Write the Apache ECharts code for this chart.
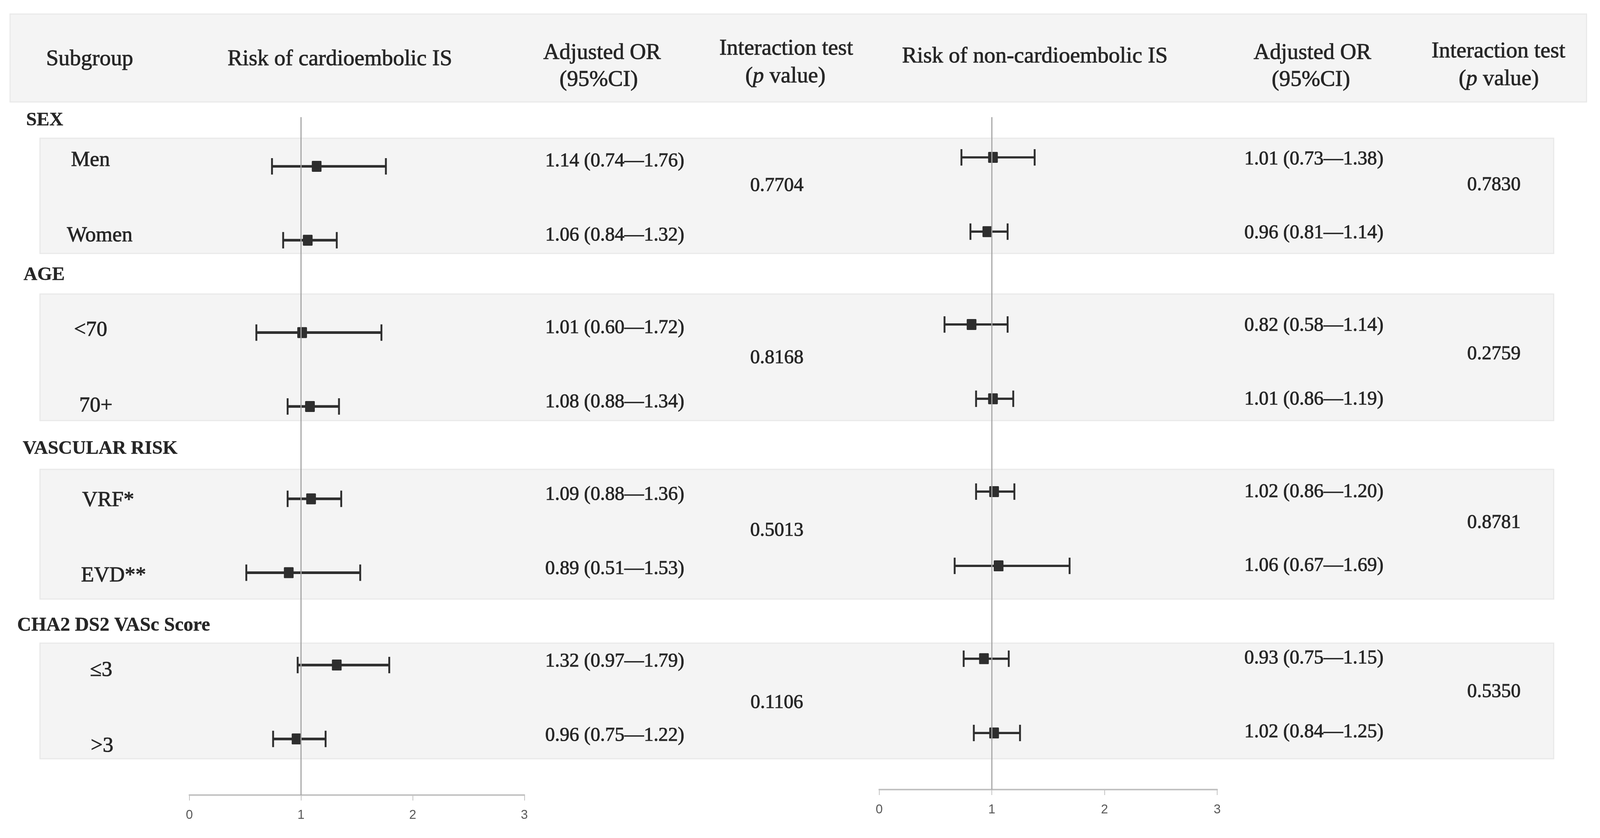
<!DOCTYPE html>
<html>
<head>
<meta charset="utf-8">
<script src="https://cdn.jsdelivr.net/npm/echarts@6/dist/echarts.min.js"></script>
<style>
html,body{margin:0;padding:0;background:#ffffff;overflow:hidden;}
#chart{position:absolute;left:0;top:0;}
</style>
</head>
<body>
<div id="chart"></div>
<script>
// ---------------- DATA ----------------
const groups = ['SEX', 'AGE', 'VASCULAR RISK', 'CHA2 DS2 VASc Score'];
const subgroups = ['Men', 'Women', '<70', '70+', 'VRF*', 'EVD**', '≤3', '>3'];
const subgroupGroup = [0, 0, 1, 1, 2, 2, 3, 3];

// Risk of cardioembolic IS
const ceOR = [1.14, 1.06, 1.01, 1.08, 1.09, 0.89, 1.32, 0.96];
const ceLo = [0.74, 0.84, 0.60, 0.88, 0.88, 0.51, 0.97, 0.75];
const ceHi = [1.76, 1.32, 1.72, 1.34, 1.36, 1.53, 1.79, 1.22];
const ceP  = ['0.7704', '0.8168', '0.5013', '0.1106'];

// Risk of non-cardioembolic IS
const nceOR = [1.01, 0.96, 0.82, 1.01, 1.02, 1.06, 0.93, 1.02];
const nceLo = [0.73, 0.81, 0.58, 0.86, 0.86, 0.67, 0.75, 0.84];
const nceHi = [1.38, 1.14, 1.14, 1.19, 1.20, 1.69, 1.15, 1.25];
const nceP  = ['0.7830', '0.2759', '0.8781', '0.5350'];

const xTicks = [0, 1, 2, 3];

// ---------------- LAYOUT (design units: 4284 x 2146) ----------------
const DW = 4284, DH = 2146;
const VW = document.documentElement.clientWidth || window.innerWidth || DW;
const VH = document.documentElement.clientHeight || window.innerHeight || DH;
const sx = VW / DW, sy = VH / DH, fs = Math.min(sx, sy);
const X = function (v) { return v * sx; };
const Y = function (v) { return v * sy; };
const F = function (v) { return v * fs; };

const el = document.getElementById('chart');
el.style.width = VW + 'px';
el.style.height = VH + 'px';

const FONT = "'Liberation Serif', 'DejaVu Serif', serif";
const INK = '#262626';

// row slot index: each group spans 9 slots, rows inside a group are 4 slots apart
const slotOf = (function () {
  const counts = {};
  return subgroups.map(function (s, i) {
    const g = subgroupGroup[i];
    counts[g] = counts[g] || 0;
    const slot = g * 9 + counts[g] * 4;
    counts[g]++;
    return slot;
  });
})();

const L = { left: 507, right: 1404, top: 300, axisY: 2036, row0: 426, unit: 47.3 };
const R = { left: 2354, right: 3259, top: 300, axisY: 2022, row0: 403, unit: 47.55 };
const yRange = function (p) {
  return { min: (p.top - p.row0) / p.unit, max: (p.axisY - p.row0) / p.unit };
};
const LY = yRange(L), RY = yRange(R);

const BANDS = [[354, 649], [753, 1077], [1202, 1534], [1647, 1943]];
const GROUP_HEAD = [[70, 308], [63, 704], [61, 1149], [46, 1602]];
const LABEL_X = [190, 179, 198, 212, 220, 217, 241, 243];

const labelY = function (i) { return 410.5 + slotOf[i] * 48.39; };
const ceTextY = function (i) { return 412.8 + slotOf[i] * 47.46; };
const nceTextY = function (i) { return 407.6 + slotOf[i] * 47.33; };
const cePY = function (g) { return 476 + g * 441.3; };
const ncePY = function (g) { return 474 + g * 432.7; };

const fmtCI = function (o, lo, hi) {
  return o.toFixed(2) + ' (' + lo.toFixed(2) + '—' + hi.toFixed(2) + ')';
};

// ---------------- GRAPHICS (table part) ----------------
const graphics = [];
function band(x, y, w, h) {
  graphics.push({
    type: 'rect', z: 0, silent: true,
    shape: { x: X(x), y: Y(y), width: X(w), height: Y(h) },
    style: { fill: '#f4f4f4', stroke: '#e9e9e9', lineWidth: F(3) }
  });
}
band(27, 36, 4221, 225);
BANDS.forEach(function (b) { band(107, b[0], 4053, b[1] - b[0]); });

const STROKE_W = 1.1;
function txt(str, x, y, opt) {
  opt = opt || {};
  graphics.push({
    type: 'text', z: 10, silent: true,
    x: X(x), y: Y(y),
    style: {
      text: str,
      fontFamily: FONT,
      fontSize: F(opt.size || 52),
      fontWeight: opt.weight || 'normal',
      fill: INK,
      stroke: INK,
      lineWidth: F(opt.weight === 'bold' ? 0.5 : STROKE_W),
      align: opt.align || 'center',
      verticalAlign: 'middle',
      rich: opt.rich
    }
  });
}
const HS = 60;
const pRich = {
  i: { fontFamily: FONT, fontSize: F(HS), fontStyle: 'italic', fill: INK, stroke: INK, lineWidth: F(STROKE_W) },
  n: { fontFamily: FONT, fontSize: F(HS), fill: INK, stroke: INK, lineWidth: F(STROKE_W) }
};
// header row
txt('Subgroup', 240, 152, { size: HS });
txt('Risk of cardioembolic IS', 910, 152, { size: HS });
txt('Adjusted OR', 1612, 136, { size: HS });
txt('(95%CI)', 1603, 205, { size: HS });
txt('Interaction test', 2105, 125, { size: HS });
txt('{n|(}{i|p}{n| value)}', 2103, 196, { size: HS, rich: pRich });
txt('Risk of non-cardioembolic IS', 2771, 145, { size: HS });
txt('Adjusted OR', 3514, 136, { size: HS });
txt('(95%CI)', 3510, 205, { size: HS });
txt('Interaction test', 4012, 132, { size: HS });
txt('{n|(}{i|p}{n| value)}', 4013, 203, { size: HS, rich: pRich });

// group headers
groups.forEach(function (g, gi) {
  txt(g, GROUP_HEAD[gi][0], GROUP_HEAD[gi][1], { size: gi === 3 ? 52 : 51, weight: 'bold', align: 'left' });
});
// subgroup rows
subgroups.forEach(function (s, i) {
  txt(s, LABEL_X[i], labelY(i), { size: 57, align: 'left' });
  txt(fmtCI(ceOR[i], ceLo[i], ceHi[i]), 1646, ceTextY(i), { size: 52 });
  txt(fmtCI(nceOR[i], nceLo[i], nceHi[i]), 3518, nceTextY(i), { size: 52 });
});
ceP.forEach(function (p, g) { txt(p, 2080, cePY(g), { size: 52 }); });
nceP.forEach(function (p, g) { txt(p, 4000, ncePY(g), { size: 52 }); });

// ---------------- SERIES ----------------
function ciData(or, lo, hi) {
  return subgroups.map(function (s, i) { return [slotOf[i], or[i], lo[i], hi[i]]; });
}
function ciRender(lw) {
  return function (params, api) {
    const y = api.value(0), o = api.value(1), lo = api.value(2), hi = api.value(3);
    const pL = api.coord([lo, y]), pH = api.coord([hi, y]), pO = api.coord([o, y]);
    const cap = Y(21);
    const c = '#2e2e2e';
    const w = X(26), h = Y(28);
    return {
      type: 'group',
      children: [
        { type: 'line', shape: { x1: pL[0], y1: pL[1], x2: pH[0], y2: pH[1] }, style: { stroke: c, lineWidth: F(lw) } },
        { type: 'line', shape: { x1: pL[0], y1: pL[1] - cap, x2: pL[0], y2: pL[1] + cap }, style: { stroke: c, lineWidth: F(5) } },
        { type: 'line', shape: { x1: pH[0], y1: pH[1] - cap, x2: pH[0], y2: pH[1] + cap }, style: { stroke: c, lineWidth: F(5) } },
        { type: 'rect', shape: { x: pO[0] - w / 2, y: pO[1] - h / 2, width: w, height: h, r: F(2) }, style: { fill: c } }
      ]
    };
  };
}

function xAxisFor(gi) {
  return {
    type: 'value', gridIndex: gi, min: xTicks[0], max: xTicks[xTicks.length - 1], interval: 1,
    axisLine: { show: true, onZero: false, lineStyle: { color: '#c2c2c2', width: F(4) } },
    axisTick: { show: true, length: Y(14), lineStyle: { color: '#c2c2c2', width: F(2) } },
    axisLabel: { show: true, margin: Y(36), fontSize: F(34), color: '#595959', fontFamily: "'Liberation Sans', Arial, sans-serif" },
    splitLine: { show: false }
  };
}
function yAxisFor(gi, r) {
  return {
    type: 'value', gridIndex: gi, inverse: true, min: r.min, max: r.max,
    show: false, splitLine: { show: false }
  };
}

const option = {
  backgroundColor: '#ffffff',
  animation: false,
  grid: [
    { left: X(L.left), right: VW - X(L.right), top: Y(L.top), bottom: VH - Y(L.axisY), containLabel: false },
    { left: X(R.left), right: VW - X(R.right), top: Y(R.top), bottom: VH - Y(R.axisY), containLabel: false }
  ],
  xAxis: [xAxisFor(0), xAxisFor(1)],
  yAxis: [yAxisFor(0, LY), yAxisFor(1, RY)],
  graphic: graphics,
  series: [
    {
      type: 'custom', xAxisIndex: 0, yAxisIndex: 0, z: 3,
      renderItem: ciRender(7), encode: { x: [1, 2, 3], y: 0 },
      data: ciData(ceOR, ceLo, ceHi), silent: true
    },
    {
      type: 'custom', xAxisIndex: 1, yAxisIndex: 1, z: 3,
      renderItem: ciRender(6), encode: { x: [1, 2, 3], y: 0 },
      data: ciData(nceOR, nceLo, nceHi), silent: true
    },
    {
      type: 'line', xAxisIndex: 0, yAxisIndex: 0, z: 5, symbol: 'none', silent: true,
      lineStyle: { color: '#a3a3a3', width: F(3) },
      data: [[1, LY.min], [1, LY.max]]
    },
    {
      type: 'line', xAxisIndex: 1, yAxisIndex: 1, z: 5, symbol: 'none', silent: true,
      lineStyle: { color: '#a3a3a3', width: F(3) },
      data: [[1, RY.min], [1, RY.max]]
    }
  ]
};

const chart = echarts.init(el, null, { renderer: 'canvas', width: VW, height: VH });
chart.setOption(option);
</script>
</body>
</html>
